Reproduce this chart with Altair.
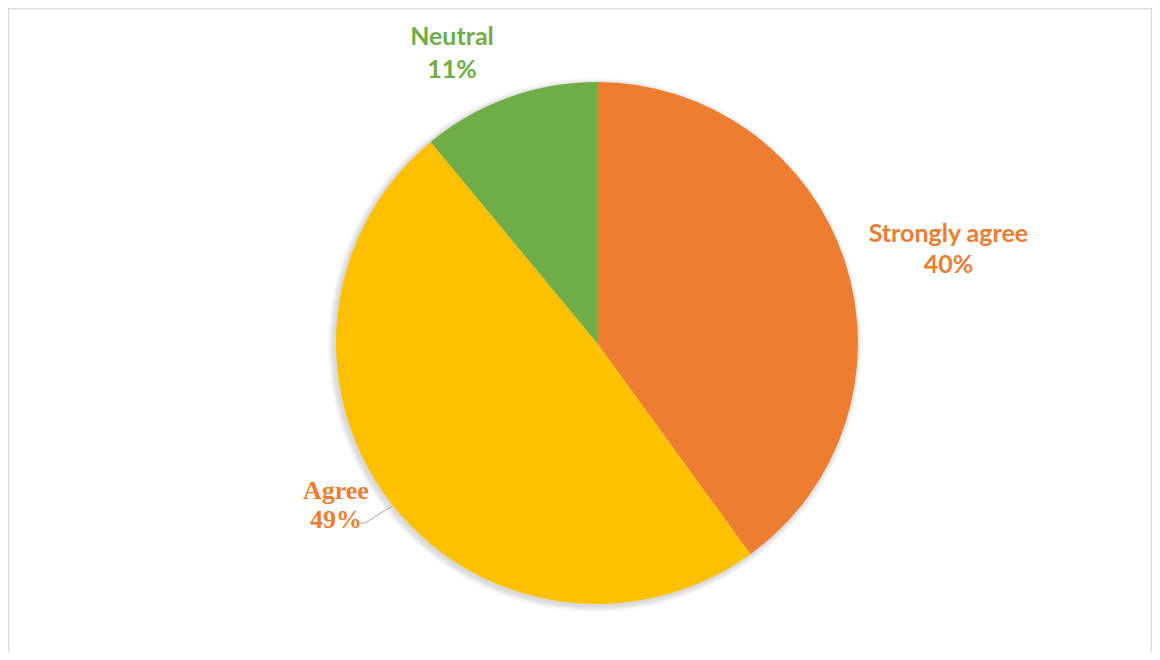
import altair as alt
import pandas as pd

categories = ["Strongly agree", "Agree", "Neutral"]
values = [40, 49, 11]
order = [0, 1, 2]
slice_colors = ["#ED7D31", "#FFC000", "#70AD47"]

df = pd.DataFrame({
    "cat": categories,
    "val": values,
    "ord": order,
    "label": [f"{c}\n{v}%" for c, v in zip(categories, values)],
})

W, H = 1144, 644
CX, CY, R = 589, 335, 261

base = alt.Chart(df).encode(
    theta=alt.Theta("val:Q", stack=True),
    order=alt.Order("ord:Q"),
)

layers = []
# soft shadow
for k in range(1, 7):
    layers.append(
        base.mark_arc(radius=R + k, x=CX - 2, y=CY + 2, color="#000000", opacity=0.025)
    )

pie = base.mark_arc(radius=R, x=CX, y=CY, strokeWidth=0).encode(
    color=alt.Color("cat:N", scale=alt.Scale(domain=categories, range=slice_colors), legend=None)
)
layers.append(pie)


def label(cat, font, size, color, r, dx, dy, lh):
    return base.transform_calculate(
        t=f"datum.cat == '{cat}' ? datum.label : ''"
    ).mark_text(
        radius=r, x=CX, y=CY, dx=dx, dy=dy, font=font, fontSize=size, fontWeight="bold",
        color=color, align="center", baseline="alphabetic", lineBreak="\n", lineHeight=lh,
    ).encode(text="t:N")


layers.append(label("Neutral", "Lato", 25, "#70AD47", 310, -40, -6, 33))
layers.append(label("Strongly agree", "Lato", 25, "#ED7D31", 360, 9, 10, 31))
layers.append(label("Agree", "Liberation Serif", 26, "#ED7D31", 300, -24, -28, 29))

# leader line for "Agree"
one = pd.DataFrame({"k": [0]})
leader1 = alt.Chart(one).mark_rule(color="#A6A6A6", strokeWidth=1).encode(
    x=alt.value(352), x2=alt.value(357), y=alt.value(515), y2=alt.value(515)
)
leader2 = alt.Chart(one).mark_rule(color="#A6A6A6", strokeWidth=1).encode(
    x=alt.value(357), x2=alt.value(384), y=alt.value(515), y2=alt.value(498)
)
layers += [leader1, leader2]

# chart frame (top, left, right only; bottom is outside the picture)
frame_col = "#D9D9D9"
top = alt.Chart(one).mark_rule(color=frame_col, strokeWidth=1.5).encode(
    x=alt.value(0), x2=alt.value(W), y=alt.value(0.5), y2=alt.value(0.5)
)
left = alt.Chart(one).mark_rule(color=frame_col, strokeWidth=1.5).encode(
    x=alt.value(0.5), x2=alt.value(0.5), y=alt.value(0), y2=alt.value(H)
)
right = alt.Chart(one).mark_rule(color=frame_col, strokeWidth=1.5).encode(
    x=alt.value(W - 0.5), x2=alt.value(W - 0.5), y=alt.value(0), y2=alt.value(H)
)
layers += [top, left, right]

chart = alt.layer(*layers).properties(
    width=W, height=H, padding=0, autosize=alt.AutoSizeParams(type="none")
).configure_view(stroke=None)

chart.save("out.html", embed_options={"renderer": "svg", "actions": False})
